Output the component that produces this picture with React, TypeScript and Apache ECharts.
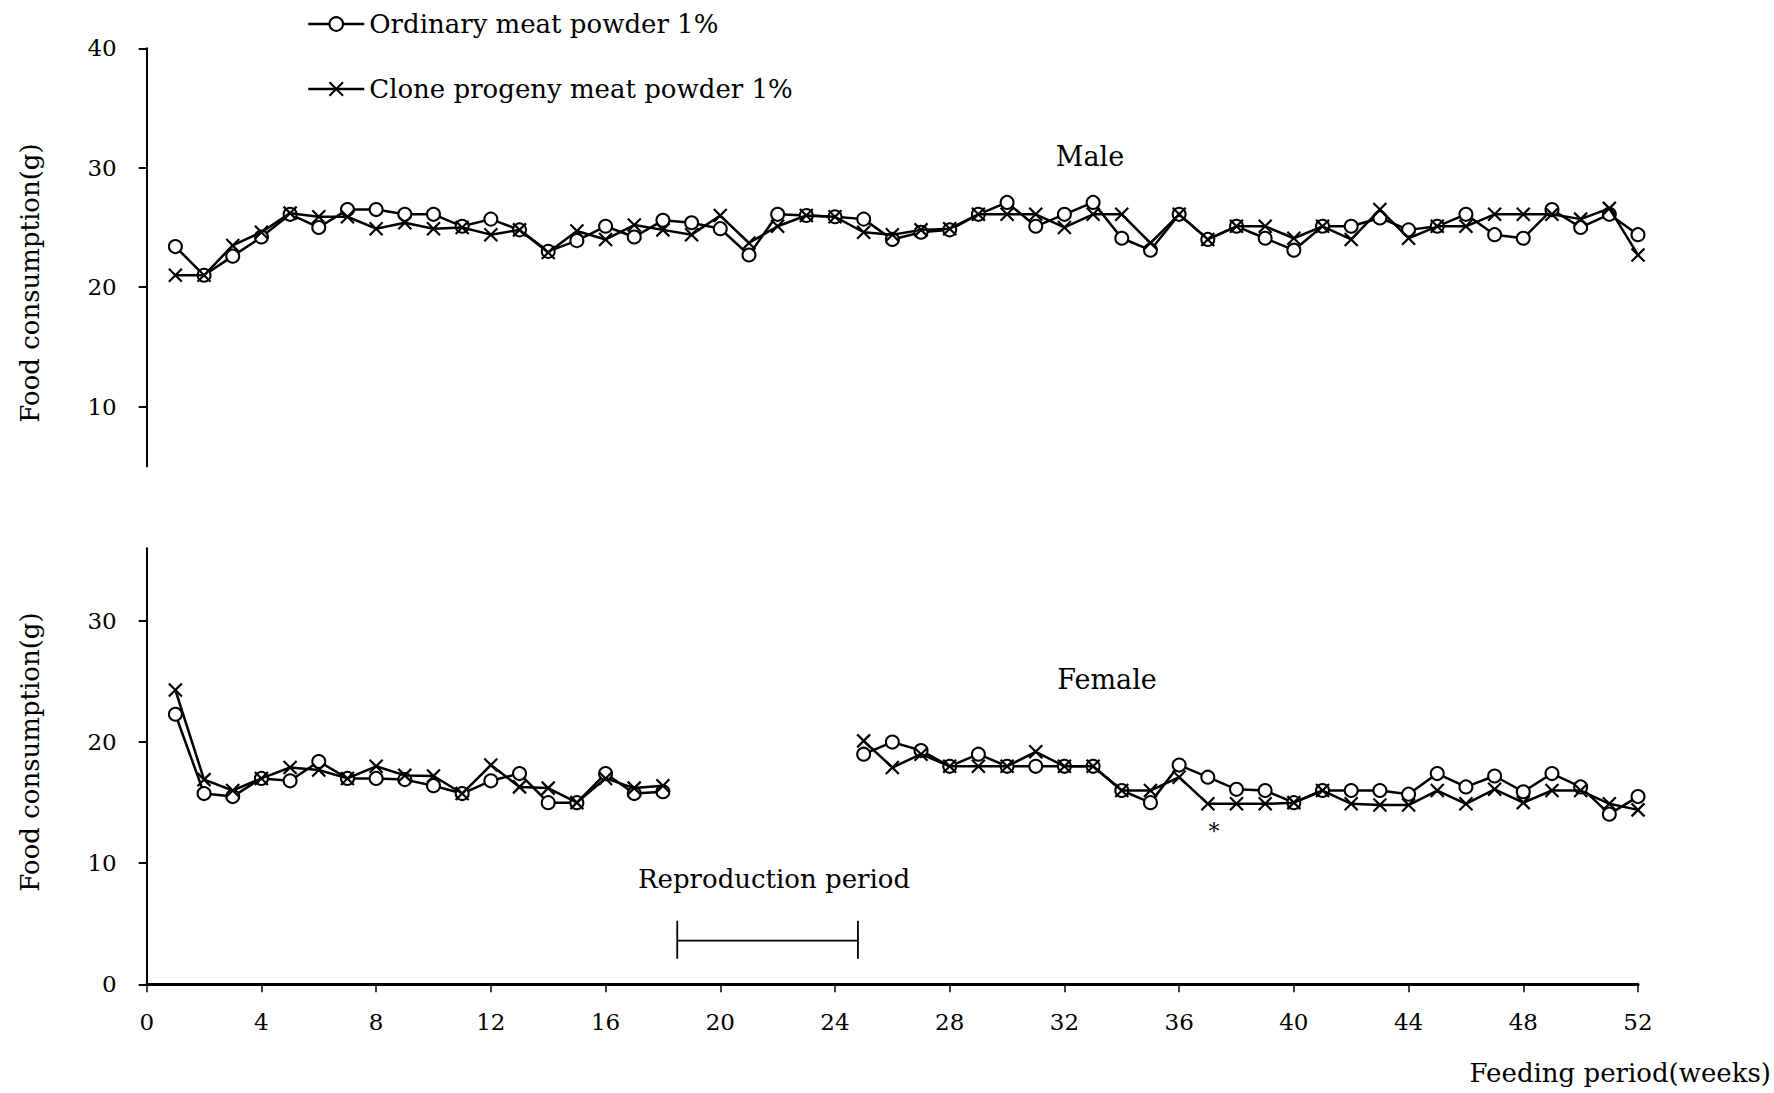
import React, { useEffect, useRef } from "react";
import * as echarts from "echarts";

const FONT = "'DejaVu Serif', serif";

const weeks = Array.from({ length: 52 }, (_, i) => i + 1);

const ORD = "Ordinary meat powder 1%";
const CLN = "Clone progeny meat powder 1%";

const maleOrdinary = [
  23.4, 21.0, 22.6, 24.2, 26.1, 25.0, 26.5, 26.5, 26.1, 26.1,
  25.1, 25.7, 24.8, 23.0, 23.9, 25.1, 24.2, 25.6, 25.4, 24.9,
  22.7, 26.1, 26.0, 25.9, 25.7, 24.0, 24.6, 24.8, 26.1, 27.1,
  25.1, 26.1, 27.1, 24.1, 23.1, 26.1, 24.0, 25.1, 24.1, 23.1,
  25.1, 25.1, 25.8, 24.8, 25.1, 26.1, 24.4, 24.1, 26.5, 25.0,
  26.1, 24.4,
];
const maleClone = [
  21.0, 21.0, 23.5, 24.6, 26.2, 25.9, 25.9, 24.9, 25.4, 24.9,
  25.0, 24.4, 24.8, 22.9, 24.7, 24.0, 25.2, 24.8, 24.4, 26.0,
  23.7, 25.1, 26.0, 25.9, 24.6, 24.4, 24.8, 24.9, 26.1, 26.1,
  26.1, 25.0, 26.1, 26.1, 23.7, 26.1, 24.0, 25.1, 25.1, 24.1,
  25.1, 24.0, 26.5, 24.1, 25.1, 25.1, 26.1, 26.1, 26.1, 25.7,
  26.6, 22.7,
];
const femaleOrdinary = [
  22.3, 15.75, 15.5, 17.0, 16.8, 18.4, 17.0, 17.0, 16.9, 16.4,
  15.75, 16.8, 17.4, 15.0, 15.0, 17.4, 15.75, 15.9, null, null,
  null, null, null, null, 19.0, 20.0, 19.3, 18.0, 19.0, 18.0,
  18.0, 18.0, 18.0, 16.0, 15.0, 18.1, 17.1, 16.1, 16.0, 15.0,
  16.0, 16.0, 16.0, 15.7, 17.4, 16.3, 17.2, 15.9, 17.4, 16.3,
  14.05, 15.5,
];
const femaleClone = [
  24.3, 16.9, 16.0, 17.0, 17.9, 17.7, 17.0, 18.0, 17.25, 17.2,
  15.75, 18.1, 16.3, 16.2, 15.0, 17.0, 16.2, 16.4, null, null,
  null, null, null, null, 20.1, 17.9, 19.0, 18.0, 18.0, 18.0,
  19.2, 18.0, 18.0, 16.0, 16.0, 17.1, 14.9, 14.9, 14.9, 15.0,
  16.0, 14.9, 14.8, 14.8, 16.0, 14.9, 16.1, 15.0, 16.0, 16.0,
  14.9, 14.4,
];

const topYTicks = [10, 20, 30, 40];
const bottomYTicks = [0, 10, 20, 30];

// Reproduction period bracket (weeks, g)
const reproStart = 18.5;
const reproEnd = 24.8;
const bracketMid = 3.6;
const bracketLow = 2.1;
const bracketHigh = 5.25;

const X_MARK = "path://M0 0L10 10M10 0L0 10";

function pairs(arr: (number | null)[]) {
  return weeks.map((w, i) => [w, arr[i] === null ? null : arr[i]]);
}

export default function App() {
  const ref = useRef<HTMLDivElement>(null);
  useEffect(() => {
    if (!ref.current) return;
    const chart = echarts.init(ref.current, undefined, { renderer: "svg" });

    const baseText = { color: "#000", fontFamily: FONT };
    const ordStyle = (gridIdx: number, data: any) => ({
      name: ORD,
      type: "line",
      xAxisIndex: gridIdx,
      yAxisIndex: gridIdx,
      data,
      symbol: "emptyCircle",
      symbolSize: 13,
      connectNulls: false,
      lineStyle: { color: "#000", width: 2.5 },
      itemStyle: { color: "#000", borderColor: "#000", borderWidth: 2 },
      z: 2,
    });
    const clnStyle = (gridIdx: number, data: any) => ({
      name: CLN,
      type: "line",
      xAxisIndex: gridIdx,
      yAxisIndex: gridIdx,
      data,
      symbol: X_MARK,
      symbolSize: 13,
      connectNulls: false,
      lineStyle: { color: "#000", width: 2.5 },
      itemStyle: { color: "#000", borderColor: "#000", borderWidth: 2.2 },
      z: 3,
    });

    const yAxisCommon = {
      type: "value",
      axisLine: { show: true, lineStyle: { color: "#000", width: 2 } },
      axisTick: { show: true, length: 8, lineStyle: { color: "#000", width: 2 } },
      splitLine: { show: false },
    };

    const legendCommon = {
      left: 302,
      itemWidth: 56,
      itemHeight: 17,
      selectedMode: false,
      lineStyle: { width: 2.5 },
      textStyle: { ...baseText, fontSize: 26 },
    };

    const option: any = {
      animation: false,
      backgroundColor: "#fff",
      textStyle: baseText,
      legend: [
        { ...legendCommon, data: [ORD], top: 6 },
        { ...legendCommon, data: [CLN], top: 71 },
      ],
      grid: [
        { left: 146.7, right: 136, top: 48.3, height: 418.1 },
        { left: 146.7, right: 136, top: 548.3, height: 436 },
      ],
      xAxis: [
        { type: "value", gridIndex: 0, min: 0, max: 52, show: false },
        {
          type: "value",
          gridIndex: 1,
          min: 0,
          max: 52,
          interval: 4,
          axisLine: { show: true, onZero: false, lineStyle: { color: "#000", width: 3 } },
          axisTick: { show: true, length: 8, lineStyle: { color: "#000", width: 1.5 } },
          axisLabel: { ...baseText, fontSize: 23, margin: 26 },
          splitLine: { show: false },
        },
      ],
      yAxis: [
        {
          ...yAxisCommon,
          gridIndex: 0,
          min: 5,
          max: 40,
          interval: 5,
          axisTick: { ...yAxisCommon.axisTick, customValues: topYTicks },
          axisLabel: { ...baseText, fontSize: 23, margin: 30, customValues: topYTicks },
        },
        {
          ...yAxisCommon,
          gridIndex: 1,
          min: 0,
          max: 36,
          interval: 10,
          axisTick: { ...yAxisCommon.axisTick, customValues: bottomYTicks },
          axisLabel: { ...baseText, fontSize: 23, margin: 30, customValues: bottomYTicks },
        },
      ],
      series: [
        ordStyle(0, pairs(maleOrdinary)),
        clnStyle(0, pairs(maleClone)),
        ordStyle(1, pairs(femaleOrdinary)),
        clnStyle(1, pairs(femaleClone)),
        {
          name: "bracket",
          type: "line",
          xAxisIndex: 1,
          yAxisIndex: 1,
          symbol: "none",
          silent: true,
          lineStyle: { color: "#000", width: 1.8 },
          data: [
            [reproStart, bracketHigh],
            [reproStart, bracketLow],
            [reproStart, bracketMid],
            [reproEnd, bracketMid],
            [reproEnd, bracketHigh],
            [reproEnd, bracketLow],
          ],
        },
      ],
      graphic: [
        {
          type: "text",
          x: 30,
          y: 283,
          rotation: Math.PI / 2,
          style: { text: "Food consumption(g)", font: `26px ${FONT}`, fill: "#000", align: "center", verticalAlign: "middle" },
        },
        {
          type: "text",
          x: 30,
          y: 752,
          rotation: Math.PI / 2,
          style: { text: "Food consumption(g)", font: `26px ${FONT}`, fill: "#000", align: "center", verticalAlign: "middle" },
        },
        {
          type: "text",
          x: 1090,
          y: 156,
          style: { text: "Male", font: `27px ${FONT}`, fill: "#000", align: "center", verticalAlign: "middle" },
        },
        {
          type: "text",
          x: 1107,
          y: 679,
          style: { text: "Female", font: `27px ${FONT}`, fill: "#000", align: "center", verticalAlign: "middle" },
        },
        {
          type: "text",
          x: 774,
          y: 879,
          style: { text: "Reproduction period", font: `26px ${FONT}`, fill: "#000", align: "center", verticalAlign: "middle" },
        },
        {
          type: "text",
          x: 1214,
          y: 831,
          style: { text: "*", font: `22px ${FONT}`, fill: "#000", align: "center", verticalAlign: "middle" },
        },
        {
          type: "text",
          x: 1771,
          y: 1073,
          style: { text: "Feeding period(weeks)", font: `26px ${FONT}`, fill: "#000", align: "right", verticalAlign: "middle" },
        },
      ],
    };

    chart.setOption(option);
    return () => chart.dispose();
  }, []);

  return (
    <div
      ref={ref}
      style={{ position: "absolute", left: 0, top: 0, width: 1774, height: 1093, background: "#fff" }}
    />
  );
}
